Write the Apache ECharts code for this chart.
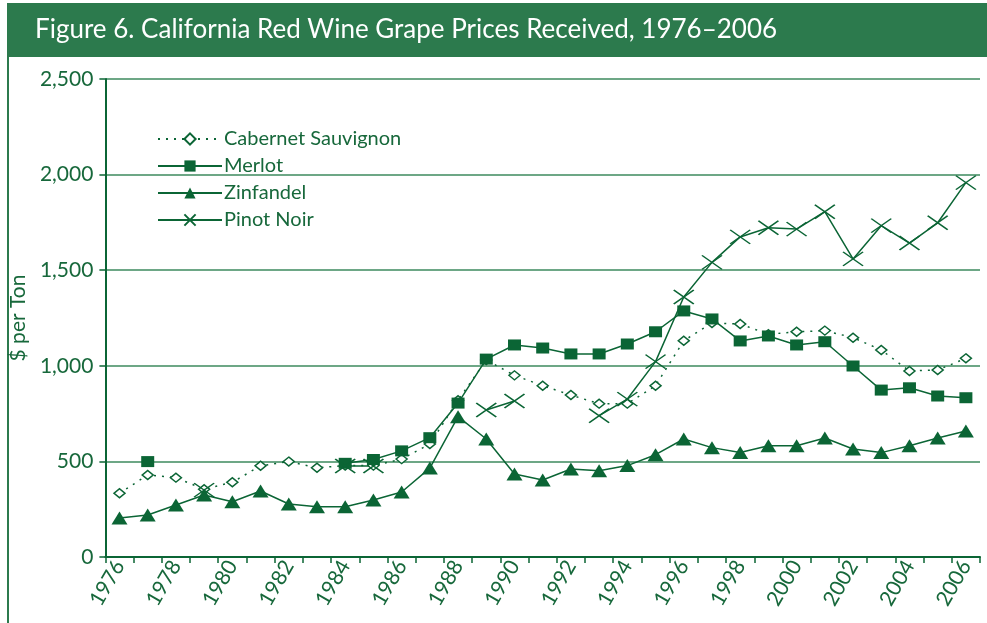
<!DOCTYPE html>
<html>
<head>
<meta charset="utf-8">
<script src="https://cdn.jsdelivr.net/npm/echarts@6/dist/echarts.min.js"></script>
<style>
  html, body { margin: 0; padding: 0; background: #fff; }
  #main { width: 987px; height: 623px; }
</style>
</head>
<body>
<div id="main"></div>
<script>
const years = [];
for (let y = 1976; y <= 2006; y++) years.push(String(y));

const cabernet = [333, 429, 415, 354, 391, 477, 499, 467, 478, 478, 512, 591, 820, 1030, 950, 896,
  847, 802, 802, 896, 1131, 1224, 1219, 1165, 1178, 1184, 1147, 1083, 973, 978, 1039];
const merlot = [null, 499, null, null, null, null, null, null, 490, 510, 555, 624, 805, 1035, 1109, 1093,
  1062, 1062, 1114, 1178, 1287, 1245, 1130, 1156, 1109, 1126, 999, 873, 885, 842, 833];
const zinfandel = [204, 220, 272, 324, 289, 345, 277, 263, 263, 298, 340, 465, 734, 617, 434, 403,
  460, 451, 478, 535, 617, 572, 547, 582, 582, 622, 565, 546, 582, 622, 659];
const pinotNoir = [null, null, null, 350, null, null, null, null, 476, 476, null, null, null, 769, 816, null,
  null, 739, 826, 1022, 1360, 1541, 1674, 1722, 1715, 1806, 1559, 1733, 1642, 1748, 1958];

const seriesNames = ["Cabernet Sauvignon", "Merlot", "Zinfandel", "Pinot Noir"];
const yTicks = [0, 500, 1000, 1500, 2000, 2500];

const green = "#0b6535";
const textGreen = "#17683b";
const font = "Lato";

let option = {
  animation: false,
  textStyle: { fontFamily: font },
  graphic: [
    {
      type: "rect",
      shape: { x: 8, y: 3, width: 979, height: 54 },
      style: { fill: "#2c7a4d" },
    },
    {
      type: "rect",
      shape: { x: 7, y: 3, width: 2, height: 620 },
      style: { fill: "#2c7a4d" },
    },
  ],
  title: {
    text: "Figure 6. California Red Wine Grape Prices Received, 1976\u20132006",
    left: 30,
    top: 12,
    textStyle: { color: "#fff", fontSize: 26, fontWeight: "normal", fontFamily: font },
  },
  legend: {
    orient: "vertical",
    left: 152,
    top: 124,
    itemWidth: 64,
    itemHeight: 14,
    itemGap: 7,
    data: seriesNames,
    textStyle: { color: textGreen, fontSize: 20, lineHeight: 20, padding: [0, 0, 0, -3] },
  },
  grid: { left: 103, right: 7, top: 79, bottom: 66 },
  xAxis: {
    type: "category",
    data: years,
    axisLine: { lineStyle: { color: green, width: 2 } },
    axisTick: { show: true, length: 6, interval: 0, lineStyle: { color: green, width: 1.5 } },
    axisLabel: { interval: 1, rotate: 60, color: textGreen, fontSize: 21, margin: 5 },
  },
  yAxis: {
    type: "value",
    min: yTicks[0],
    max: yTicks[yTicks.length - 1],
    interval: 500,
    name: "$ per Ton",
    nameLocation: "middle",
    nameGap: 65,
    nameTextStyle: { color: textGreen, fontSize: 21 },
    axisLine: { show: true, lineStyle: { color: green, width: 2 } },
    axisTick: { show: true, length: 6, lineStyle: { color: green, width: 1.5 } },
    axisLabel: {
      color: textGreen,
      fontSize: 21,
      margin: 12,
      formatter: (v) => v.toLocaleString("en-US"),
    },
    splitLine: { lineStyle: { color: "#3d8a5e", width: 1.5 } },
  },
  series: [
    {
      name: seriesNames[0],
      type: "line",
      data: cabernet,
      symbol: "diamond",
      symbolSize: [11, 9],
      lineStyle: { color: green, width: 1.5, type: [2, 6] },
      itemStyle: { color: "#fff", borderColor: green, borderWidth: 1.5 },
    },
    {
      name: seriesNames[1],
      type: "line",
      data: merlot,
      symbol: "rect",
      symbolSize: [13, 11],
      lineStyle: { color: green, width: 1.5 },
      itemStyle: { color: green },
    },
    {
      name: seriesNames[2],
      type: "line",
      data: zinfandel,
      symbol: "triangle",
      symbolSize: [16, 13],
      lineStyle: { color: green, width: 1.5 },
      itemStyle: { color: green },
    },
    {
      name: seriesNames[3],
      type: "line",
      data: pinotNoir,
      symbol: "path://M0,0L10,7M10,0L0,7",
      symbolSize: [20, 14],
      lineStyle: { color: green, width: 1.5 },
      itemStyle: { color: green, borderColor: green, borderWidth: 1.5 },
    },
  ],
};

let myChart = echarts.init(document.getElementById("main"));
option && myChart.setOption(option);
</script>
</body>
</html>
